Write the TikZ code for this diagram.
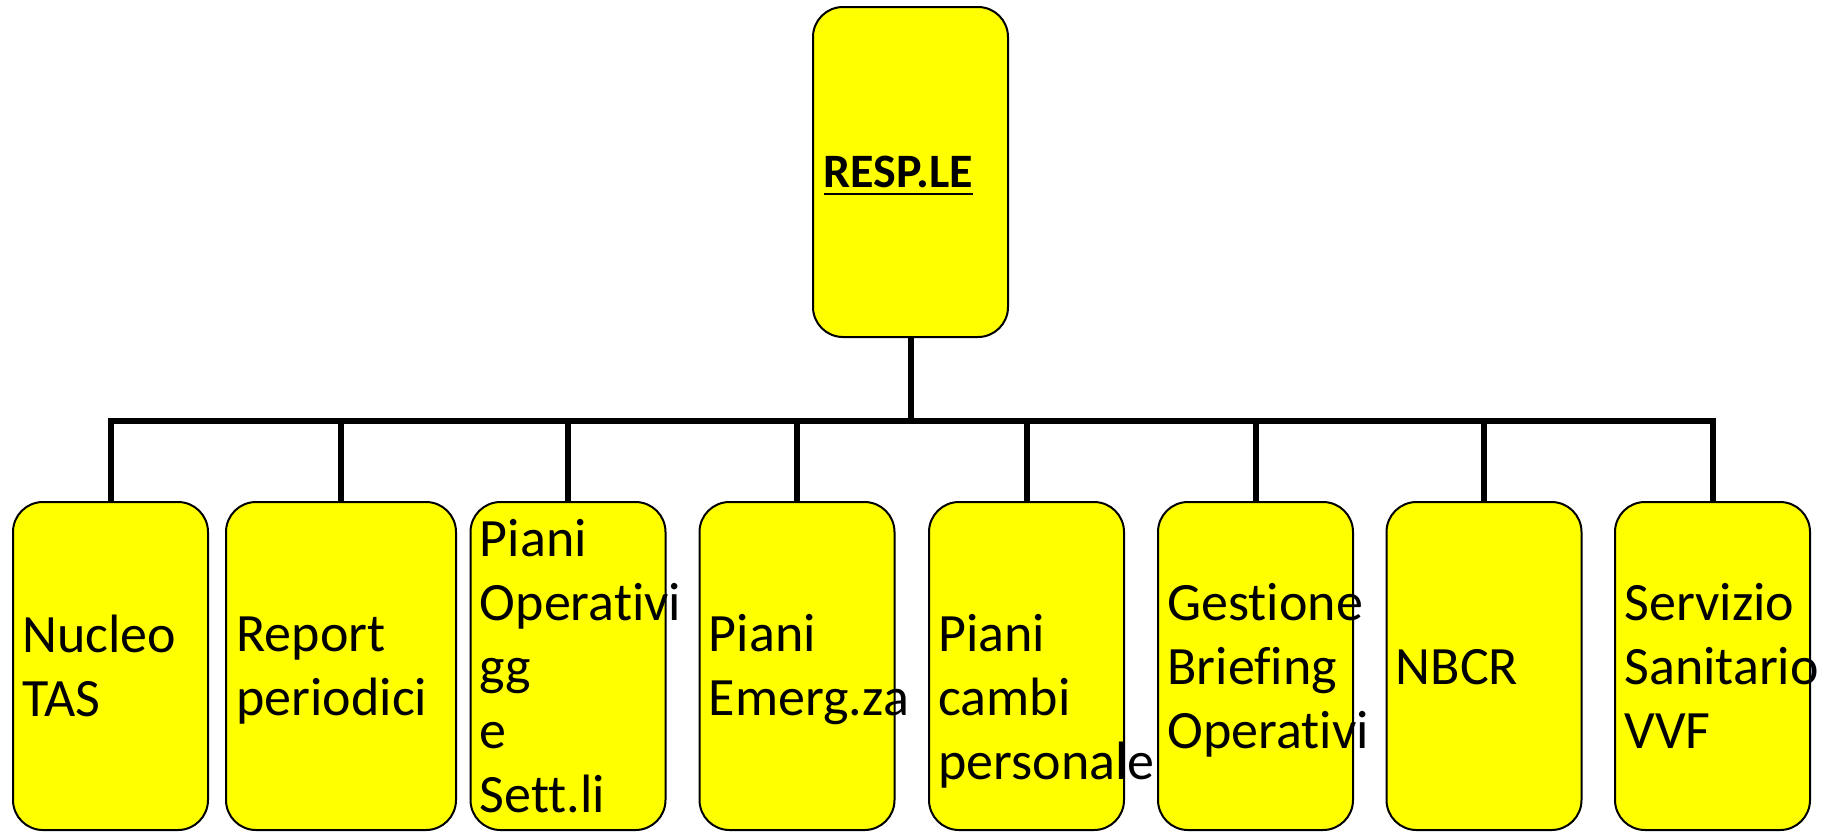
\documentclass[tikz,border=0pt]{standalone}
\usepackage{fontspec}
\setmainfont{Carlito}[Ligatures={NoCommon}]
\usetikzlibrary{calc,backgrounds}
\definecolor{boxfill}{RGB}{255,255,0}
\tikzset{
  box/.style={draw=black, line width=1pt, fill=boxfill, rounded corners=15pt,
    minimum width=97.5pt, minimum height=164pt, inner sep=0pt},
  lbl/.style={anchor=north west, inner sep=0pt, align=left,
    font=\fontsize{27pt}{32pt}\selectfont},
  conn/.style={draw=black, line width=3pt, line join=miter},
}
% uniform line height so every label line sits on a 32pt grid
\newcommand\lstrut{\rule[-10pt]{0pt}{32pt}}
\begin{document}
\begin{tikzpicture}[x=0.5pt,y=-0.5pt]
\useasboundingbox (0,0) rectangle (1830,831);

% head of the chart
\node[box, minimum height=165pt] (top) at (910.5,172) {};
\node[anchor=base west, inner sep=0pt,
      font=\fontsize{24pt}{28pt}\selectfont\bfseries] (resp)
      at ($(top.north west)+(11,181)$) {RESP.LE};
\draw[line width=1.1pt] ([shift={(1,7)}]resp.base west) -- ([shift={(0,7)}]resp.base east);

% the eight offices
\node[box] (b1) at (110.5,666) {};
\node[box, minimum width=115pt] (b2) at (341,666) {};
\node[box] (b3) at (568,666) {};
\node[box] (b4) at (797,666) {};
\node[box] (b5) at (1026.5,666) {};
\node[box] (b6) at (1255.5,666) {};
\node[box] (b7) at (1484,666) {};
\node[box] (b8) at (1712.5,666) {};

\node[lbl] (t1) at ($(b1.north west)+(10,107)$) {\lstrut Nucleo\\\lstrut TAS};
\node[lbl] (t2) at ($(b2.north west)+(11,106)$) {\lstrut Report\\\lstrut periodici};
\node[lbl] (t3) at ($(b3.north west)+(10,11)$)
  {\lstrut Piani\\\lstrut Operativi\\\lstrut gg\\\lstrut e\\\lstrut Sett.li};
\node[lbl] (t4) at ($(b4.north west)+(10,106)$) {\lstrut Piani\\\lstrut Emerg.za};
\node[lbl] (t5) at ($(b5.north west)+(10,106)$)
  {\lstrut Piani\\\lstrut cambi\\\lstrut personale};
\node[lbl] (t6) at ($(b6.north west)+(10,75)$)
  {\lstrut Gestione\\\lstrut Briefing\\\lstrut Operativi};
\node[lbl] (t7) at ($(b7.north west)+(10,139)$) {\lstrut NBCR};
\node[lbl] (t8) at ($(b8.north west)+(10,75)$)
  {\lstrut Servizio\\\lstrut Sanitario\\\lstrut VVF};

% connectors: stem from the head down to the bar, then one drop per office
\coordinate (hub) at ($(top.south)+(0,83)$);
\begin{scope}[on background layer]
  \foreach \c in {b1,b2,b3,b4,b5,b6,b7,b8}
    \draw[conn] (top.south) -- (hub) -| (\c.north);
\end{scope}
\end{tikzpicture}
\end{document}
